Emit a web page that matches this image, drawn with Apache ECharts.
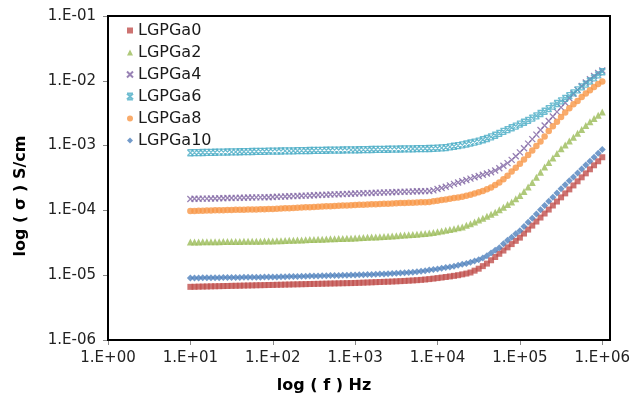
<!DOCTYPE html>
<html>
<head>
<meta charset="utf-8">
<script src="https://cdn.jsdelivr.net/npm/echarts@6/dist/echarts.min.js"></script>
<style>html,body{margin:0;padding:0;background:#fff;}#c{width:633px;height:394px;}</style>
</head>
<body>
<div id="c"></div>
<script>
// Frequencies (Hz)
const freq = [10,11.22,12.59,14.13,15.85,17.78,19.95,22.39,25.12,28.18,31.62,35.48,39.81,44.67,50.12,56.23,63.10,70.79,79.43,89.13,
100,112.2,125.9,141.3,158.5,177.8,199.5,223.9,251.2,281.8,316.2,354.8,398.1,446.7,501.2,562.3,631.0,707.9,794.3,891.3,
1000,1122,1259,1413,1585,1778,1995,2239,2512,2818,3162,3548,3981,4467,5012,5623,6310,7079,7943,8913,
10000,11220,12590,14130,15850,17780,19950,22390,25120,28180,31620,35480,39810,44670,50120,56230,63100,70790,79430,89130,
100000,112200,125900,141300,158500,177800,199500,223900,251200,281800,316200,354800,398100,446700,501200,562300,631000,707900,794300,891300,
1000000];

const LGPGa0 = [6.61e-6,6.63e-6,6.66e-6,6.68e-6,6.70e-6,6.73e-6,6.75e-6,6.77e-6,6.80e-6,6.82e-6,6.85e-6,6.87e-6,6.89e-6,6.92e-6,6.94e-6,6.96e-6,6.99e-6,7.01e-6,7.03e-6,7.06e-6,
7.08e-6,7.11e-6,7.13e-6,7.16e-6,7.18e-6,7.21e-6,7.23e-6,7.26e-6,7.28e-6,7.31e-6,7.34e-6,7.36e-6,7.39e-6,7.41e-6,7.44e-6,7.46e-6,7.49e-6,7.51e-6,7.54e-6,7.56e-6,
7.59e-6,7.63e-6,7.67e-6,7.72e-6,7.76e-6,7.81e-6,7.85e-6,7.90e-6,7.94e-6,7.99e-6,8.04e-6,8.10e-6,8.16e-6,8.23e-6,8.30e-6,8.38e-6,8.47e-6,8.58e-6,8.71e-6,8.86e-6,
9.03e-6,9.20e-6,9.38e-6,9.57e-6,9.77e-6,1.00e-5,1.03e-5,1.06e-5,1.10e-5,1.175e-5,1.26e-5,1.38e-5,1.51e-5,1.70e-5,1.91e-5,2.14e-5,2.40e-5,2.69e-5,3.02e-5,3.39e-5,
3.80e-5,4.39e-5,5.06e-5,5.83e-5,6.73e-5,7.76e-5,8.95e-5,1.03e-4,1.19e-4,1.37e-4,1.59e-4,1.83e-4,2.11e-4,2.43e-4,2.81e-4,3.24e-4,3.73e-4,4.31e-4,4.97e-4,5.73e-4,
6.61e-4];

const LGPGa2 = [3.25e-5,3.26e-5,3.26e-5,3.27e-5,3.27e-5,3.28e-5,3.29e-5,3.29e-5,3.30e-5,3.30e-5,3.31e-5,3.32e-5,3.32e-5,3.33e-5,3.33e-5,3.34e-5,3.35e-5,3.35e-5,3.36e-5,3.36e-5,
3.37e-5,3.39e-5,3.41e-5,3.43e-5,3.45e-5,3.47e-5,3.49e-5,3.50e-5,3.52e-5,3.54e-5,3.56e-5,3.58e-5,3.60e-5,3.62e-5,3.64e-5,3.66e-5,3.68e-5,3.69e-5,3.71e-5,3.73e-5,
3.75e-5,3.78e-5,3.81e-5,3.84e-5,3.87e-5,3.90e-5,3.93e-5,3.96e-5,4.00e-5,4.04e-5,4.08e-5,4.12e-5,4.16e-5,4.20e-5,4.25e-5,4.30e-5,4.36e-5,4.42e-5,4.48e-5,4.58e-5,
4.68e-5,4.80e-5,4.93e-5,5.07e-5,5.22e-5,5.38e-5,5.55e-5,5.89e-5,6.24e-5,6.61e-5,7.08e-5,7.59e-5,8.13e-5,8.71e-5,9.33e-5,1.023e-4,1.122e-4,1.230e-4,1.349e-4,1.514e-4,
1.698e-4,1.950e-4,2.291e-4,2.692e-4,3.236e-4,3.890e-4,4.677e-4,5.495e-4,6.457e-4,7.586e-4,8.913e-4,1.023e-3,1.175e-3,1.349e-3,1.549e-3,1.778e-3,2.042e-3,2.344e-3,2.630e-3,2.951e-3,
3.311e-3];

const LGPGa4 = [1.50e-4,1.51e-4,1.51e-4,1.52e-4,1.52e-4,1.53e-4,1.53e-4,1.54e-4,1.54e-4,1.55e-4,1.555e-4,1.56e-4,1.57e-4,1.57e-4,1.58e-4,1.58e-4,1.59e-4,1.59e-4,1.60e-4,1.60e-4,
1.61e-4,1.62e-4,1.63e-4,1.64e-4,1.65e-4,1.66e-4,1.67e-4,1.68e-4,1.69e-4,1.70e-4,1.715e-4,1.725e-4,1.735e-4,1.745e-4,1.755e-4,1.765e-4,1.775e-4,1.785e-4,1.80e-4,1.81e-4,
1.82e-4,1.83e-4,1.84e-4,1.85e-4,1.86e-4,1.87e-4,1.88e-4,1.89e-4,1.90e-4,1.91e-4,1.92e-4,1.93e-4,1.94e-4,1.95e-4,1.96e-4,1.97e-4,1.975e-4,1.985e-4,1.995e-4,2.04e-4,
2.14e-4,2.21e-4,2.32e-4,2.43e-4,2.57e-4,2.69e-4,2.82e-4,2.95e-4,3.09e-4,3.24e-4,3.39e-4,3.55e-4,3.72e-4,3.89e-4,4.12e-4,4.47e-4,4.90e-4,5.37e-4,6.03e-4,6.84e-4,
7.85e-4,9.12e-4,1.072e-3,1.259e-3,1.479e-3,1.738e-3,2.042e-3,2.399e-3,2.818e-3,3.311e-3,3.890e-3,4.571e-3,5.370e-3,6.310e-3,7.244e-3,8.318e-3,9.44e-3,1.059e-2,1.189e-2,1.318e-2,
1.445e-2];

const LGPGa6 = [7.76e-4,7.78e-4,7.81e-4,7.83e-4,7.85e-4,7.88e-4,7.90e-4,7.92e-4,7.94e-4,7.97e-4,7.99e-4,8.01e-4,8.04e-4,8.06e-4,8.08e-4,8.11e-4,8.13e-4,8.15e-4,8.17e-4,8.20e-4,
8.22e-4,8.24e-4,8.26e-4,8.28e-4,8.30e-4,8.32e-4,8.34e-4,8.36e-4,8.38e-4,8.40e-4,8.42e-4,8.43e-4,8.45e-4,8.47e-4,8.49e-4,8.51e-4,8.53e-4,8.55e-4,8.57e-4,8.59e-4,
8.61e-4,8.63e-4,8.66e-4,8.68e-4,8.70e-4,8.72e-4,8.75e-4,8.77e-4,8.79e-4,8.82e-4,8.84e-4,8.86e-4,8.88e-4,8.91e-4,8.93e-4,8.95e-4,8.98e-4,9.00e-4,9.02e-4,9.07e-4,
9.12e-4,9.23e-4,9.33e-4,9.55e-4,9.77e-4,1.000e-3,1.023e-3,1.059e-3,1.096e-3,1.135e-3,1.175e-3,1.230e-3,1.288e-3,1.365e-3,1.445e-3,1.549e-3,1.660e-3,1.770e-3,1.884e-3,2.004e-3,
2.138e-3,2.291e-3,2.455e-3,2.661e-3,2.884e-3,3.126e-3,3.388e-3,3.715e-3,4.074e-3,4.467e-3,4.898e-3,5.370e-3,5.888e-3,6.531e-3,7.244e-3,8.035e-3,8.913e-3,9.93e-3,1.109e-2,1.236e-2,
1.380e-2];

const LGPGa8 = [9.79e-5,9.83e-5,9.86e-5,9.90e-5,9.93e-5,9.97e-5,1.001e-4,1.004e-4,1.008e-4,1.011e-4,1.015e-4,1.019e-4,1.022e-4,1.026e-4,1.029e-4,1.033e-4,1.037e-4,1.040e-4,1.044e-4,1.047e-4,
1.051e-4,1.059e-4,1.067e-4,1.075e-4,1.083e-4,1.091e-4,1.099e-4,1.107e-4,1.115e-4,1.123e-4,1.131e-4,1.139e-4,1.147e-4,1.155e-4,1.163e-4,1.171e-4,1.179e-4,1.187e-4,1.195e-4,1.203e-4,
1.210e-4,1.218e-4,1.226e-4,1.233e-4,1.241e-4,1.249e-4,1.256e-4,1.264e-4,1.272e-4,1.279e-4,1.287e-4,1.295e-4,1.302e-4,1.310e-4,1.318e-4,1.326e-4,1.333e-4,1.341e-4,1.349e-4,1.380e-4,
1.413e-4,1.445e-4,1.479e-4,1.514e-4,1.549e-4,1.585e-4,1.622e-4,1.679e-4,1.738e-4,1.820e-4,1.905e-4,1.995e-4,2.113e-4,2.265e-4,2.455e-4,2.692e-4,3.020e-4,3.428e-4,3.981e-4,4.571e-4,
5.248e-4,6.095e-4,7.161e-4,8.414e-4,9.886e-4,1.161e-3,1.380e-3,1.679e-3,1.995e-3,2.344e-3,2.754e-3,3.236e-3,3.758e-3,4.365e-3,4.898e-3,5.623e-3,6.383e-3,7.161e-3,8.035e-3,8.913e-3,
9.772e-3];

const LGPGa10 = [9.06e-6,9.08e-6,9.09e-6,9.11e-6,9.12e-6,9.14e-6,9.16e-6,9.17e-6,9.19e-6,9.20e-6,9.22e-6,9.24e-6,9.25e-6,9.27e-6,9.28e-6,9.30e-6,9.32e-6,9.33e-6,9.35e-6,9.36e-6,
9.38e-6,9.41e-6,9.45e-6,9.48e-6,9.52e-6,9.55e-6,9.59e-6,9.62e-6,9.66e-6,9.69e-6,9.73e-6,9.76e-6,9.79e-6,9.83e-6,9.86e-6,9.90e-6,9.93e-6,9.97e-6,1.000e-5,1.004e-5,
1.007e-5,1.012e-5,1.017e-5,1.022e-5,1.028e-5,1.034e-5,1.040e-5,1.047e-5,1.054e-5,1.061e-5,1.07e-5,1.08e-5,1.09e-5,1.10e-5,1.115e-5,1.13e-5,1.15e-5,1.175e-5,1.20e-5,1.225e-5,
1.25e-5,1.28e-5,1.31e-5,1.34e-5,1.38e-5,1.42e-5,1.47e-5,1.52e-5,1.58e-5,1.65e-5,1.73e-5,1.85e-5,2.00e-5,2.20e-5,2.42e-5,2.65e-5,3.05e-5,3.45e-5,3.85e-5,4.35e-5,
4.85e-5,5.63e-5,6.54e-5,7.59e-5,8.81e-5,1.02e-4,1.19e-4,1.38e-4,1.60e-4,1.86e-4,2.16e-4,2.48e-4,2.86e-4,3.29e-4,3.78e-4,4.35e-4,5.00e-4,5.75e-4,6.61e-4,7.60e-4,
8.74e-4];

const seriesNames = ['LGPGa0','LGPGa2','LGPGa4','LGPGa6','LGPGa8','LGPGa10'];
const seriesValues = [LGPGa0, LGPGa2, LGPGa4, LGPGa6, LGPGa8, LGPGa10];
const xTickLabels = ['1.E+00','1.E+01','1.E+02','1.E+03','1.E+04','1.E+05','1.E+06'];
const yTickValues = [1e-6, 1e-5, 1e-4, 1e-3, 1e-2, 1e-1];
const yTickLabels = ['1.E-06','1.E-05','1.E-04','1.E-03','1.E-02','1.E-01'];
const xTitle = 'log ( f ) Hz';
const yTitle = 'log ( σ ) S/cm';

const styles = [
  {symbol:'rect', size:6, color:'#C0504D'},
  {symbol:'triangle', size:7, color:'#9BBB59'},
  {symbol:'path://M0,0L10,10M10,0L0,10', size:6, color:'#8064A2', stroke:true},
  {symbol:'path://M0,0L10,10M10,0L0,10M0,0L10,0M0,10L10,10', size:6, color:'#4BACC6', stroke:true},
  {symbol:'circle', size:6.5, color:'#F79646'},
  {symbol:'diamond', size:7, color:'#4F81BD'}
];

const FONT = 'DejaVu Sans';
const chart = echarts.init(document.getElementById('c'), null, {renderer:'canvas'});

const series = seriesNames.map((name, i) => {
  const st = styles[i];
  return {
    name: name,
    type: 'scatter',
    symbol: st.symbol,
    symbolSize: st.size,
    data: freq.map((f, k) => [f, seriesValues[i][k]]),
    itemStyle: st.stroke ? {color: 'rgba(0,0,0,0)', borderColor: st.color, borderWidth: 1.3} : {color: st.color},
    emphasis: {disabled: true},
    silent: true
  };
});

const baseGraphic = [
  {type: 'rect', id: 'frame', silent: true, z: 100,
   shape: {x: 108, y: 16, width: 502, height: 324},
   style: {fill: 'none', stroke: '#000', lineWidth: 2}},
  {type: 'text', id: 'xtitle', silent: true, x: 324, y: 386,
   style: {text: xTitle, fontFamily: FONT, fontSize: 16, fontWeight: 'bold', fill: '#000', align: 'center', verticalAlign: 'middle'}},
  {type: 'text', id: 'ytitle', silent: true, x: 21, y: 196, rotation: Math.PI / 2,
   style: {text: yTitle, fontFamily: FONT, fontSize: 16, fontWeight: 'bold', fill: '#000', align: 'center', verticalAlign: 'middle'}}
];

chart.setOption({
  animation: false,
  grid: {left: 108, width: 495, top: 16, height: 324},
  xAxis: {
    type: 'log', min: 1, max: 1e6,
    axisLine: {show: true, lineStyle: {color: '#000', width: 2}},
    axisTick: {show: true, length: 5, lineStyle: {color: '#888'}},
    splitLine: {show: false},
    axisLabel: {color: '#222', fontFamily: FONT, fontSize: 15, margin: 11,
      formatter: v => xTickLabels[Math.round(Math.log10(v))]}
  },
  yAxis: {
    type: 'log', min: 1e-6, max: 1e-1,
    axisLine: {show: true, lineStyle: {color: '#000', width: 2}},
    axisTick: {show: true, length: 5, lineStyle: {color: '#888'}},
    splitLine: {show: false},
    axisLabel: {show: false}
  },
  legend: {
    orient: 'vertical', left: 126, top: 22, padding: 0,
    itemWidth: 6, itemHeight: 6, itemGap: 5,
    textStyle: {fontFamily: FONT, fontSize: 16, color: '#1a1a1a', lineHeight: 17},
    data: seriesNames
  },
  graphic: baseGraphic,
  series: series
});

// y tick labels placed at the positions given by the y axis scale
const yLabelGraphic = yTickValues.map((v, i) => ({
  type: 'text', id: 'ylab' + i, silent: true,
  x: 96, y: chart.convertToPixel({yAxisIndex: 0}, v),
  style: {text: yTickLabels[i], fontFamily: FONT, fontSize: 15, fill: '#222', align: 'right', verticalAlign: 'middle'}
}));
chart.setOption({graphic: baseGraphic.concat(yLabelGraphic)});
</script>
</body>
</html>
